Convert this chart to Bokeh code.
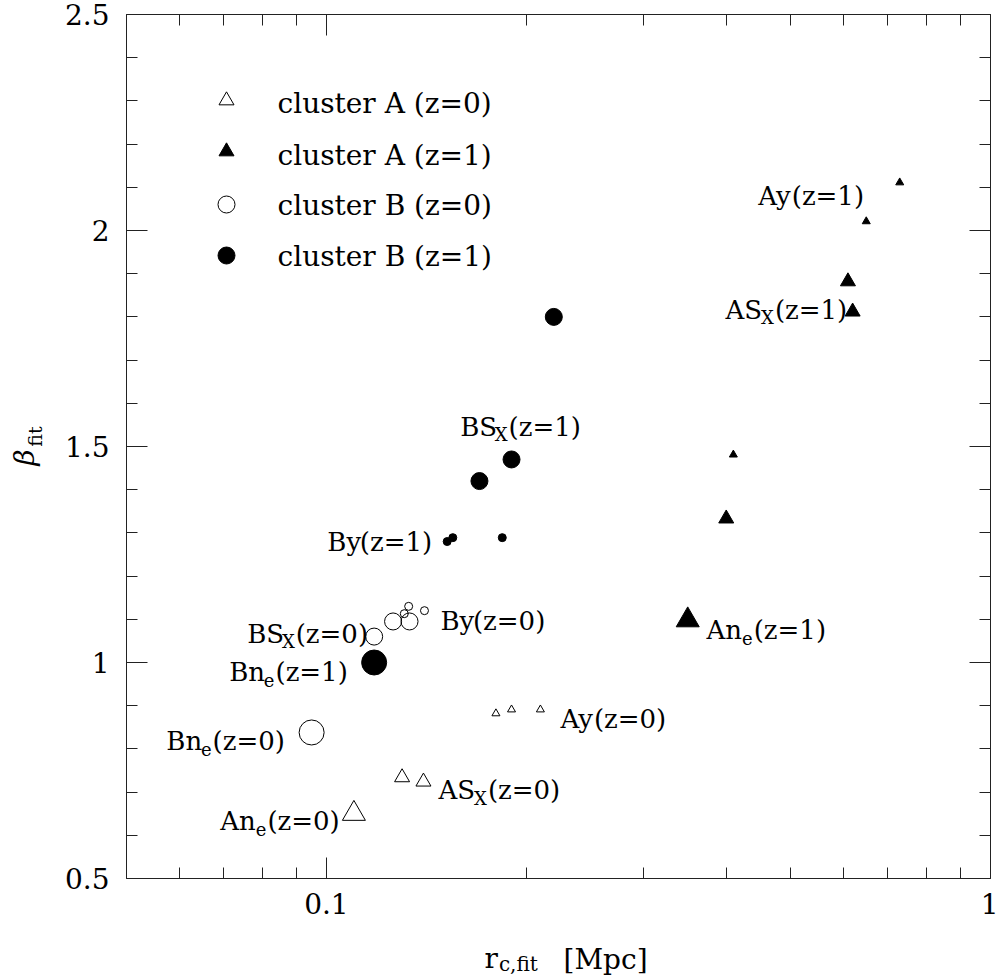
import numpy as np
from bokeh.plotting import figure
from bokeh.models import (FixedTicker, CustomJSTickFormatter, LinearAxis, LogAxis,
                          ColumnDataSource, Range1d)
from bokeh.embed import file_html
from bokeh.resources import INLINE
from bokeh.core.properties import value

# ---------------- data (r_c,fit [Mpc], beta_fit, fitting method) ----------------
A0_r      = [0.18, 0.19, 0.21, 0.13, 0.14, 0.11]
A0_beta   = [0.882, 0.891, 0.891, 0.734, 0.724, 0.650]
A0_method = ["y", "y", "y", "Sx", "Sx", "ne"]

A1_r      = [0.73, 0.65, 0.41, 0.61, 0.62, 0.40, 0.35]
A1_beta   = [2.111, 2.021, 1.481, 1.882, 1.812, 1.333, 1.098]
A1_method = ["y", "y", "y", "Sx", "Sx", "Sx", "ne"]

B0_r      = [0.131, 0.133, 0.1405, 0.118, 0.126, 0.1334, 0.095]
B0_beta   = [1.113, 1.130, 1.120, 1.060, 1.095, 1.095, 0.838]
B0_method = ["y", "y", "y", "Sx", "Sx", "Sx", "ne"]

B1_r      = [0.152, 0.155, 0.184, 0.22, 0.19, 0.17, 0.118]
B1_beta   = [1.280, 1.289, 1.289, 1.80, 1.47, 1.42, 1.00]
B1_method = ["y", "y", "y", "Sx", "Sx", "Sx", "ne"]

x_major = [0.1, 1.0]
x_minor = [0.05, 0.06, 0.07, 0.08, 0.09, 0.2, 0.3, 0.4, 0.5, 0.6, 0.7, 0.8, 0.9]
y_major = [0.5, 1.0, 1.5, 2.0, 2.5]
y_minor = [0.5, 0.6, 0.7, 0.8, 0.9, 1.0, 1.1, 1.2, 1.3, 1.4, 1.5, 1.6, 1.7, 1.8,
           1.9, 2.0, 2.1, 2.2, 2.3, 2.4, 2.5]

legend_labels = ["cluster A (z=0)", "cluster A (z=1)", "cluster B (z=0)", "cluster B (z=1)"]

# annotations: (x, baseline y, main, subscript, rest)
annotations = [
    (0.447, 2.079, "Ay", "", "(z=1)"),
    (0.399, 1.817, "AS", "X", "(z=1)"),
    (0.159, 1.546, "BS", "X", "(z=1)"),
    (0.1003, 1.280, "By", "", "(z=1)"),
    (0.1485, 1.097, "By", "", "(z=0)"),
    (0.0760, 1.067, "BS", "X", "(z=0)"),
    (0.0714, 0.977, "Bn", "e", "(z=1)"),
    (0.0574, 0.819, "Bn", "e", "(z=0)"),
    (0.0692, 0.634, "An", "e", "(z=0)"),
    (0.1475, 0.704, "AS", "X", "(z=0)"),
    (0.2251, 0.870, "Ay", "", "(z=0)"),
    (0.3736, 1.076, "An", "e", "(z=1)"),
]

# ---------------- styles / geometry ----------------
FONT = "DejaVu Serif"
CIRCLE_SIZE = {"y": 8, "Sx": 17, "ne": 25}
TRI_SIZE = {"y": 8, "Sx": 15, "ne": 23}
LABEL_PX = 26
SUB_PX = 18
SUB_DROP = 8

W = {" ": .318, "(": .390, ")": .390, ",": .318, "=": .838, "0": .636, "1": .636,
     "A": .722, "B": .686, "S": .646, "X": .713, "M": .955, "e": .592, "n": .644,
     "y": .565, "z": .525, "c": .561, "l": .320, "u": .644, "s": .514, "t": .402,
     "r": .478, "f": .371, "i": .320, "p": .642, "[": .390, "]": .390}


def tw(s, px):
    return sum(W.get(ch, 0.6) for ch in s) * px


PAGE_W, PAGE_H = 998, 977
BL, BR, BT, BB = 126, 990, 14, 878   # plot box edges in page pixels
XR = (0.05, 1.0)                      # box range (log x)
YR = (0.5, 2.5)                       # box range (linear y)


def xd(px):
    lo, hi = np.log10(XR[0]), np.log10(XR[1])
    return 10 ** (lo + (px - BL) / (BR - BL) * (hi - lo))


def yd(py):
    return YR[1] - (py - BT) / (BB - BT) * (YR[1] - YR[0])


# the frame covers the whole canvas; the axes sit at fixed data locations
p = figure(width=PAGE_W, height=PAGE_H, x_axis_type="log",
           x_range=Range1d(xd(0), xd(PAGE_W)), y_range=Range1d(yd(PAGE_H), yd(0)),
           output_backend="svg", toolbar_location=None, min_border=0)
p.title.visible = False
p.xgrid.visible = False
p.ygrid.visible = False
p.outline_line_color = None
p.background_fill_color = "white"
p.border_fill_color = "white"

fmt = CustomJSTickFormatter(code="return String(tick)")
blank = CustomJSTickFormatter(code="return ''")
AX_COLOR = "#222222"


def style(ax, show, loc, bounds, ticks, minors):
    ax.ticker = FixedTicker(ticks=ticks, minor_ticks=minors)
    ax.fixed_location = loc
    ax.bounds = bounds
    ax.major_tick_in = 21
    ax.major_tick_out = 0
    ax.minor_tick_in = 11
    ax.minor_tick_out = 0
    ax.axis_line_color = AX_COLOR
    ax.major_tick_line_color = AX_COLOR
    ax.minor_tick_line_color = AX_COLOR
    ax.axis_line_width = 1
    if show:
        ax.formatter = fmt
        ax.major_label_text_font = FONT
        ax.major_label_text_font_size = "28px"
        ax.major_label_text_color = "black"
    else:
        ax.formatter = blank
        ax.major_label_text_font_size = "0px"
        ax.major_label_standoff = 0


xa = p.xaxis[0]
style(xa, True, YR[0], XR, x_major, x_minor)
xa.major_label_standoff = 14

ya = p.yaxis[0]
style(ya, True, XR[0], YR, y_major, y_minor)
ya.major_label_standoff = 17

top = LogAxis()
style(top, False, YR[1], XR, x_major, x_minor)
p.add_layout(top, "above")
right = LinearAxis()
style(right, False, XR[1], YR, y_major, y_minor)
p.add_layout(right, "right")

# ---------------- data points ----------------
def add_set(r, b, m, marker, filled, sizes):
    src = ColumnDataSource(dict(x=r, y=b, s=[sizes[k] for k in m]))
    p.scatter("x", "y", source=src, marker=marker, size="s",
              line_color="black", line_width=1,
              fill_color="black" if filled else None)


add_set(A0_r, A0_beta, A0_method, "triangle", False, TRI_SIZE)
add_set(A1_r, A1_beta, A1_method, "triangle", True, TRI_SIZE)
add_set(B0_r, B0_beta, B0_method, "circle", False, CIRCLE_SIZE)
add_set(B1_r, B1_beta, B1_method, "circle", True, CIRCLE_SIZE)

# ---------------- legend ----------------
leg_mx = xd(226)
leg_tx = xd(277)
leg_my = [yd(100), yd(151), yd(204), yd(255)]
leg_ty = [yd(103), yd(155), yd(205), yd(256)]
p.scatter([leg_mx], [leg_my[0]], marker="triangle", size=15, line_color="black", fill_color=None)
p.scatter([leg_mx], [leg_my[1]], marker="triangle", size=15, line_color="black", fill_color="black")
p.scatter([leg_mx], [leg_my[2]], marker="circle", size=17, line_color="black", fill_color=None)
p.scatter([leg_mx], [leg_my[3]], marker="circle", size=17, line_color="black", fill_color="black")
p.text(x=[leg_tx] * 4, y=leg_ty, text=legend_labels, text_font=value(FONT),
       text_font_size="28px", text_baseline="alphabetic", text_align="left",
       text_color="black")

# ---------------- annotations with subscripts ----------------
tx, ty, tt, tfs, txo, tyo = [], [], [], [], [], []
for (x, y, main, sub, rest) in annotations:
    off = 0.0
    tx.append(x); ty.append(y); tt.append(main); tfs.append(f"{LABEL_PX}px")
    txo.append(off); tyo.append(0)
    off += tw(main, LABEL_PX)
    if sub:
        tx.append(x); ty.append(y); tt.append(sub); tfs.append(f"{SUB_PX}px")
        txo.append(off); tyo.append(SUB_DROP)
        off += tw(sub, SUB_PX) + 1
    tx.append(x); ty.append(y); tt.append(rest); tfs.append(f"{LABEL_PX}px")
    txo.append(off); tyo.append(0)

asrc = ColumnDataSource(dict(x=tx, y=ty, t=tt, fs=tfs, xo=txo, yo=tyo))
p.text("x", "y", text="t", source=asrc, text_font=value(FONT), text_font_size="fs",
       x_offset="xo", y_offset="yo", text_baseline="alphabetic", text_align="left",
       text_color="black")

# ---------------- axis titles (composed with subscripts) ----------------
xt_src = ColumnDataSource(dict(
    x=[xd(484), xd(484 + tw("r", 28) + 1), xd(563)],
    y=[yd(958), yd(963), yd(959)],
    t=["r", "c,fit", "[Mpc]"],
    fs=["28px", "20px", "28px"]))
p.text("x", "y", text="t", source=xt_src, text_font=value(FONT), text_font_size="fs",
       text_baseline="alphabetic", text_align="left", text_color="black")

p.text(x=[xd(24)], y=[yd(457)], text=["β"], text_font=value(FONT),
       text_font_size="28px", text_font_style="italic", angle=np.pi / 2,
       text_align="center", text_baseline="middle", text_color="black")
p.text(x=[xd(34)], y=[yd(436)], text=["fit"], text_font=value(FONT),
       text_font_size="19px", angle=np.pi / 2,
       text_align="center", text_baseline="middle", text_color="black")

open("out.html", "w").write(file_html(p, INLINE))
